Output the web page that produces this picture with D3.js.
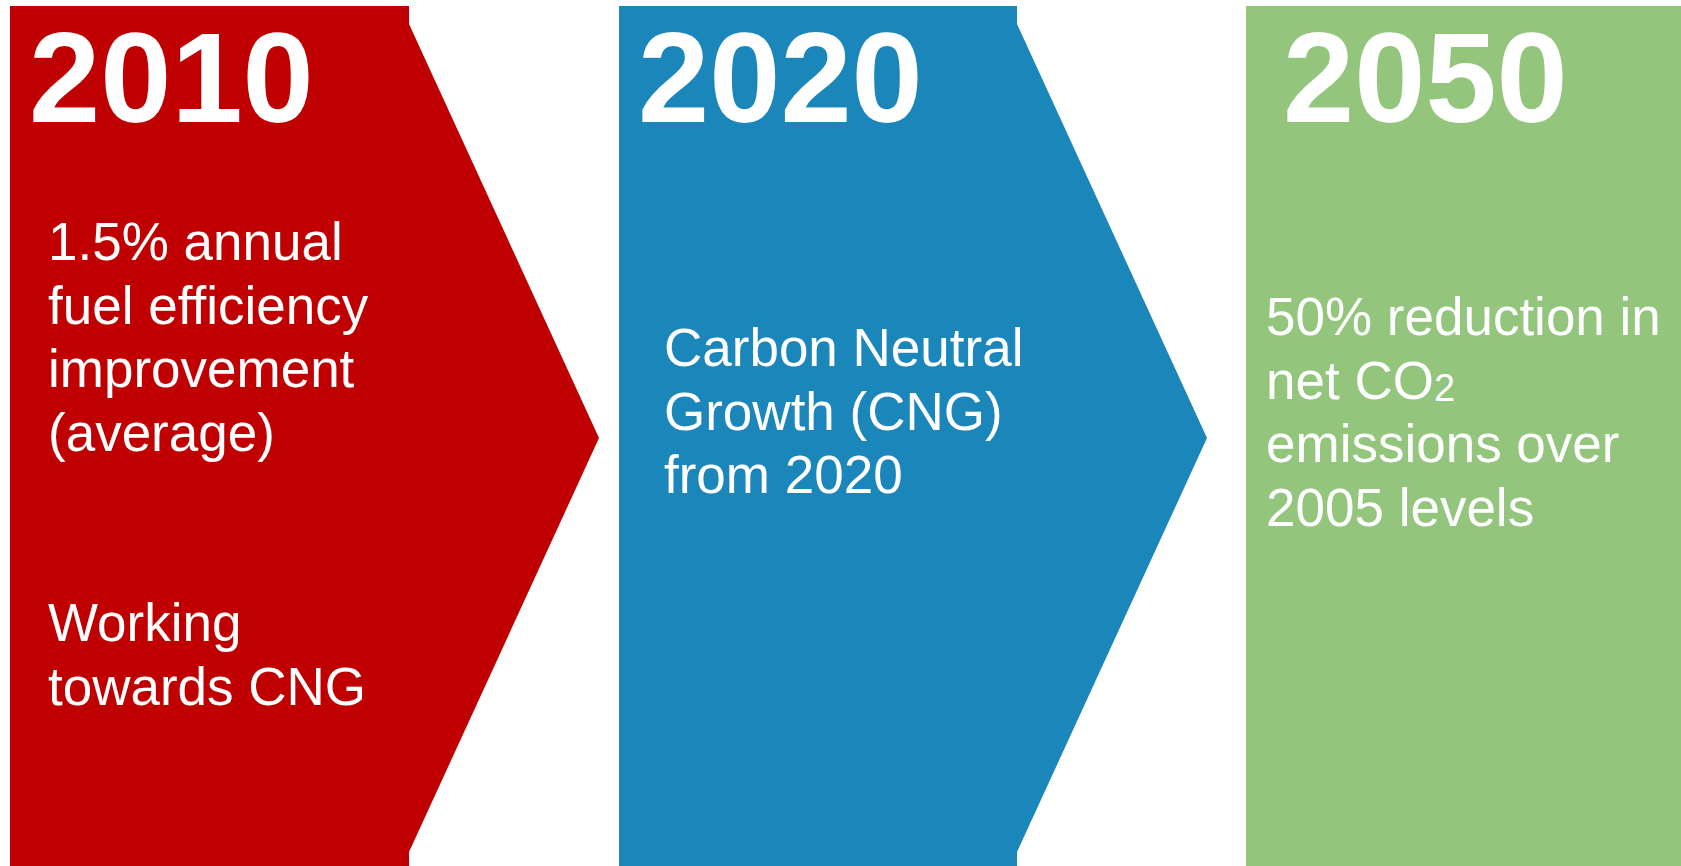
<!DOCTYPE html>
<html>
<head>
<meta charset="utf-8">
<script src="https://cdn.jsdelivr.net/npm/d3@7"></script>
<style>
  html, body { margin: 0; padding: 0; background: #ffffff; overflow: hidden; }
  svg { display: block; }
</style>
</head>
<body>
<div id="chart"></div>
<script>
// Three-step roadmap: two chevrons and a final block

const years = ['2010', '2020', '2050'];
const shapes = ['chevron', 'chevron', 'block'];
const fills = ['#c00000', '#1b86b9', '#93c57d'];

// body text per step; empty strings keep a blank line
const stepText = [
    ['1.5% annual', 'fuel efficiency', 'improvement', '(average)', '', '', 'Working', 'towards CNG'],
    ['Carbon Neutral', 'Growth (CNG)', 'from 2020'],
    ['50% reduction in', 'net CO|2', 'emissions over', '2005 levels']
];

const width = 1681, height = 866;

// Layout
const panelLeft = d3.scaleOrdinal().domain(years).range([10, 619, 1246]);
const panelBody = d3.scaleOrdinal().domain(years).range([399, 398, 440]);
const tipDepth = 190;
const shapeTop = 6, stepH = 18, tipY = 438;
const yearX = d3.scaleOrdinal().domain(years).range([29, 638, 1283]);
const textX = d3.scaleOrdinal().domain(years).range([48, 664, 1266]);
const textY0 = d3.scaleOrdinal().domain(years).range([260, 366, 335]);
const lineH = 63.5;

const svg = d3.select('#chart')
    .append('svg')
    .attr('width', width)
    .attr('height', height);

function chevron(x0, w) {
    let p = d3.path();
    let x1 = x0 + w;
    let bottom = tipY + (tipY - shapeTop);
    p.moveTo(x0, shapeTop);
    p.lineTo(x1, shapeTop);
    p.lineTo(x1, shapeTop + stepH);
    p.lineTo(x1 + tipDepth, tipY);
    p.lineTo(x1, bottom - stepH);
    p.lineTo(x1, bottom);
    p.lineTo(x0, bottom);
    p.closePath();
    return p.toString();
}

function block(x0, w) {
    let p = d3.path();
    p.rect(x0, shapeTop, w, height - shapeTop + 10);
    return p.toString();
}

const steps = years.map((y, i) => ({year: y, shape: shapes[i], fill: fills[i], lines: stepText[i]}));

const g = svg.selectAll('g.step')
    .data(steps)
    .join('g')
    .attr('class', 'step');

g.append('path')
    .attr('d', d => d.shape === 'chevron'
        ? chevron(panelLeft(d.year), panelBody(d.year))
        : block(panelLeft(d.year), panelBody(d.year)))
    .attr('fill', d => d.fill);

g.append('text')
    .attr('x', d => yearX(d.year))
    .attr('y', 122)
    .attr('fill', '#ffffff')
    .style('font-family', '"Liberation Sans", Arial, sans-serif')
    .style('font-weight', 'bold')
    .style('font-size', '128px')
    .text(d => d.year);

g.each(function(d) {
    let t = d3.select(this).append('g');
    d.lines.forEach((line, j) => {
        if (!line) return;
        let txt = t.append('text')
            .attr('x', textX(d.year))
            .attr('y', textY0(d.year) + j * lineH)
            .attr('fill', '#ffffff')
            .style('font-family', '"Liberation Sans", Arial, sans-serif')
            .style('font-size', '53px');
        let parts = line.split('|');
        txt.append('tspan').text(parts[0]);
        if (parts[1]) {
            // subscript digit in CO2
            txt.append('tspan')
                .attr('dy', 2)
                .style('font-size', '38px')
                .text(parts[1]);
        }
    });
});
</script>
</body>
</html>
